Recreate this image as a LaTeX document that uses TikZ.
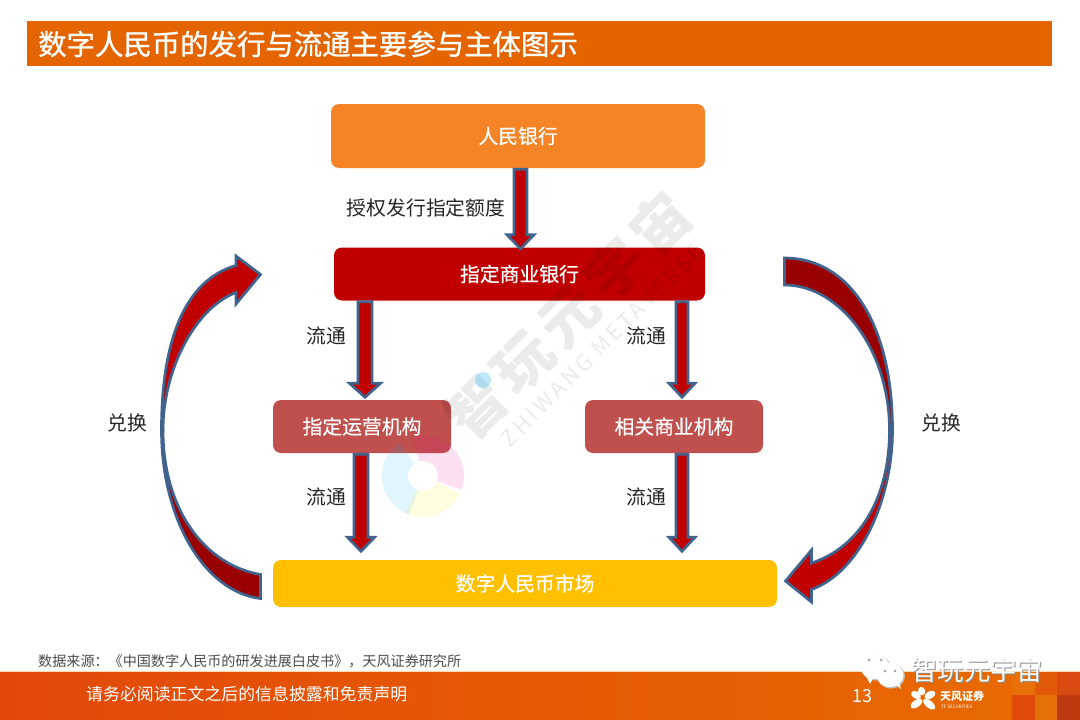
\documentclass[tikz,border=0pt]{standalone}
\usepackage{fontspec}
\setmainfont{Noto Sans CJK SC}
\newfontfamily\heavyfont[FakeBold=0.5]{Noto Sans CJK SC}
\newfontfamily\titlefont[FakeBold=1]{Noto Sans CJK SC}
\usetikzlibrary{calc,arrows.meta,positioning}
\newcommand{\fsz}[1]{\fontsize{#1}{#1}\selectfont}
\definecolor{barorange}{HTML}{E46500}
\definecolor{pbocorange}{HTML}{F58426}
\definecolor{arrowred}{HTML}{C00000}
\definecolor{arrowdark}{HTML}{990000}
\definecolor{arrowblue}{HTML}{41648F}
\definecolor{midred}{HTML}{C0504D}
\definecolor{marketgold}{HTML}{FFC000}
\definecolor{footleft}{HTML}{E2480A}
\definecolor{footright}{HTML}{E86C00}
\tikzset{
  boxnode/.style={rounded corners=8pt,inner sep=0pt,text=white,font=\fsz{19.8}\heavyfont},
  flowlabel/.style={inner sep=0pt,text=black!85,font=\fsz{19.8}},
  blockarrow/.style={draw=arrowblue,fill=arrowred,line width=2.7pt,line join=miter},
  foldarrow/.style={draw=arrowblue,fill=arrowdark,line width=2.7pt,line join=miter},
  markgray/.style={inner sep=0pt,text=black,opacity=0.08}
}
\newcommand{\flowdown}[6]{%
  \draw[blockarrow] ($(#2.south -| #1,0)+(-#4,1)$) -- ($(#2.south -| #1,0)+(#4,1)$)
    -- ($(#3.north -| #1,0)+(#4,#6-14)$) -- ($(#3.north -| #1,0)+(#5,#6-14)$)
    -- ($(#3.north -| #1,0)+(0,#6)$) -- ($(#3.north -| #1,0)+(-#5,#6-14)$)
    -- ($(#3.north -| #1,0)+(-#4,#6-14)$) -- cycle;
}
\begin{document}
\begin{tikzpicture}[x=1pt,y=-1pt]
  \useasboundingbox (0,0) rectangle (1080,720);
  \fill[white] (0,0) rectangle (1080,720);
  \fill[barorange] (27,21) rectangle (1052,66);
  \node[anchor=west,inner sep=0pt,text=white,font=\fsz{28.4}\titlefont] (title) at (38,44) {数字人民币的发行与流通主要参与主体图示};
  \node[boxnode,fill=pbocorange,minimum width=374pt,minimum height=64pt] (pboc) at (518,136) {人民银行};
  \node[boxnode,fill=arrowred,minimum width=371pt,minimum height=53pt] (bank) at (519.5,274) {指定商业银行};
  \node[boxnode,fill=midred,minimum width=178pt,minimum height=53pt] (oper) at (362,426.5) {指定运营机构};
  \node[boxnode,fill=midred,minimum width=178pt,minimum height=53pt] (comm) at (674,426.5) {相关商业机构};
  \node[boxnode,fill=marketgold,minimum width=504pt,minimum height=47pt] (market) at (525,583.5) {数字人民币市场};
  \flowdown{520.5}{pboc}{bank}{6.5}{13.5}{1.5}
  \flowdown{365}{bank}{oper}{7}{15.5}{-2.5}
  \flowdown{682}{bank}{comm}{6}{13}{-2.5}
  \flowdown{361}{oper}{market}{7}{13.5}{-8.5}
  \flowdown{682}{comm}{market}{6}{13}{-8.5}
  \node[flowlabel] (grant) at (426,208) {授权发行指定额度};
  \node[flowlabel] (flowa) at (326,336) {流通};
  \node[flowlabel] (flowb) at (646,336) {流通};
  \node[flowlabel] (flowc) at (326,497) {流通};
  \node[flowlabel] (flowd) at (646,497) {流通};
  \node[flowlabel] (swapl) at (127,423) {兑换};
  \node[flowlabel] (swapr) at (941,423) {兑换};
  \draw[foldarrow] (161.5,430) .. controls (161.5,520) and (205,592) .. (260.5,598.5)
    -- (260.5,574.5) .. controls (205,565) and (163,510) .. (163,430) -- cycle;
  \draw[blockarrow] (163,430) .. controls (163,370) and (195,308) .. (236,292.5)
    -- (236,304) -- (260.5,274.5) -- (236,256) -- (236,265.5)
    .. controls (185,280) and (161.5,340) .. (161.5,430) -- cycle;
  \draw[foldarrow] (784.5,258) .. controls (850,258) and (892.5,325) .. (892.5,430)
    -- (889.5,430) .. controls (889.5,350) and (840,285) .. (784.5,285) -- cycle;
  \draw[blockarrow] (889.5,430) .. controls (889.5,500) and (858,548) .. (811.5,563)
    -- (811.5,550) -- (785.5,581) -- (811.5,602) -- (811.5,589.5)
    .. controls (860,572) and (892.5,500) .. (892.5,430) -- cycle;
  \node[markgray,rotate=45,font=\fsz{58}\bfseries\addfontfeatures{LetterSpace=12}] (markcn) at (568,315) {智玩元宇宙};
  \node[markgray,rotate=45,font=\fsz{22}\addfontfeatures{LetterSpace=15}] (marken) at (602,345) {ZHIWANG METAVERSE};
  \fill[cyan,opacity=0.25] (483,380) circle (8pt);
  \foreach \tint/\fromang/\toang in {cyan/-125/-250,magenta/-105/20,yellow/25/115}{
    \fill[\tint,opacity=0.12] (423,476) ++(\fromang:41) arc[start angle=\fromang,end angle=\toang,radius=41]
      -- ($(423,476)+(\toang:15)$) arc[start angle=\toang,end angle=\fromang,radius=15] -- cycle;
  }
  \node[anchor=west,inner sep=0pt,text=black!70,font=\fsz{14.1}] (source) at (38,661) {数据来源：《中国数字人民币的研发进展白皮书》，天风证券研究所};
  \shade[left color=footleft,right color=footright] (0,672) rectangle (1080,720);
  \draw[orange!30,line width=1pt] (0,671.5) -- (1080,671.5);
  \foreach \sx/\ex/\sy/\ey/\tone in {1012/1035/672/695/E87008,1035/1057/672/695/E05A0A,1057/1080/672/695/D84A10,1012/1035/695/720/E04A0A,1035/1057/695/720/E67008,1057/1080/695/720/C03A10}{
    \definecolor{tilecolor}{HTML}{\tone}
    \fill[tilecolor] (\sx,\sy) rectangle (\ex,\ey);
  }
  \node[anchor=west,inner sep=0pt,text=white,font=\fsz{16.9}] (notice) at (86,694) {请务必阅读正文之后的信息披露和免责声明};
  \node[inner sep=0pt,text=white,font=\fsz{18}] (page) at (862,696) {13};
  \foreach \petal/\plen in {-40/12,30/10,150/9,215/11,100/7}{
    \fill[white,rotate around={\petal:(923,699)}] (923,699) ++(8,0) ellipse[x radius=\plen*0.6,y radius=3.6];
  }
  \node[anchor=west,inner sep=0pt,text=white,font=\fsz{11}\bfseries] (tftext) at (940,696) {天风证券};
  \node[anchor=west,inner sep=0pt,text=white,font=\fsz{4.5}] (tfsub) at (941,706.5) {TF SECURITIES};
  \fill[black!25] (876,668) ellipse[x radius=15,y radius=12.5];
  \fill[white] (875,667) ellipse[x radius=14.5,y radius=12];
  \fill[white] (866,676) -- (870,684) -- (874,676) -- cycle;
  \fill[black!25] (891,676) ellipse[x radius=14,y radius=12.5];
  \fill[white] (890,675) ellipse[x radius=13.5,y radius=12];
  \fill[white] (895,684) -- (901,689) -- (899,682) -- cycle;
  \foreach \ex/\ey in {869/660,881/660,885/671,895/671}{
    \fill[black!35] (\ex,\ey) circle (1.5pt);
  }
  \node[anchor=west,inner sep=0pt,text=black!45,font=\fsz{26.4}] (wxshade) at (912,671) {智玩元宇宙};
  \node[anchor=west,inner sep=0pt,text=white,font=\fsz{26.4}] (wxname) at (911,670) {智玩元宇宙};
\end{tikzpicture}
\end{document}
